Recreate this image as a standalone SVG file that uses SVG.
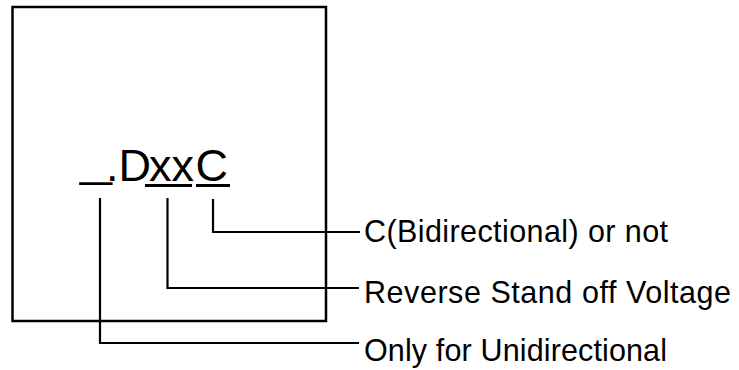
<svg xmlns="http://www.w3.org/2000/svg" width="739" height="370" viewBox="0 0 739 370">
<style>
.box{fill:#fff;stroke:#000;stroke-width:2.5}
.lead{fill:none;stroke:#000;stroke-width:2.2}
.ul{stroke:#000;stroke-width:3}
.main{font-family:"Liberation Sans",Arial,sans-serif;font-size:45px;fill:#000}
.lbl{font-family:"Liberation Sans",Arial,sans-serif;font-size:30.5px;fill:#000}
</style>
<rect width="739" height="370" fill="#fff"/>
<g id="box">
<rect class="box" x="12.5" y="7" width="313.5" height="314"/>
<text class="main" x="80" y="176" textLength="32" lengthAdjust="spacingAndGlyphs">_</text>
<text class="main" y="181"><tspan x="106">.</tspan><tspan x="118.5">D</tspan><tspan x="149">x</tspan><tspan x="171.5">x</tspan><tspan x="195.5">C</tspan></text>
<line class="ul" x1="145" y1="185.5" x2="192" y2="185.5"/>
<line class="ul" x1="196" y1="185.5" x2="230" y2="185.5"/>
</g>
<g id="connectors">
<path class="lead" d="M213,199 V232 H360"/>
<path class="lead" d="M167.5,198 V288 H359"/>
<path class="lead" d="M100,198 V343 H359"/>
</g>
<g id="label-c">
<text class="lbl" x="364" y="242" textLength="304">C(Bidirectional) or not</text>
</g>
<g id="label-voltage">
<text class="lbl" x="364" y="303" textLength="367">Reverse Stand off Voltage</text>
</g>
<g id="label-uni">
<text class="lbl" x="364" y="361" textLength="303">Only for Unidirectional</text>
</g>
</svg>
